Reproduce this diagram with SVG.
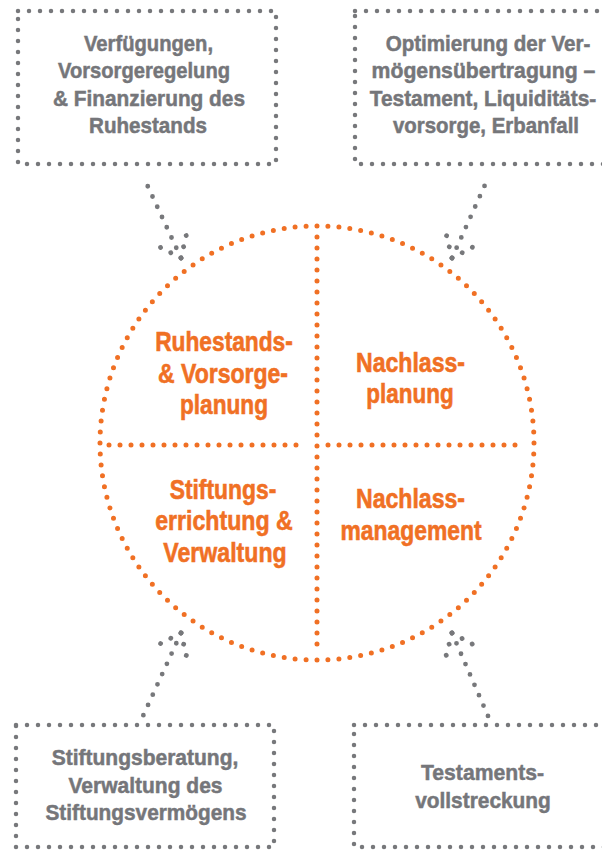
<svg xmlns="http://www.w3.org/2000/svg" width="602" height="850" viewBox="0 0 602 850">
  <style>
    .box { fill: none; stroke: #77787b; stroke-width: 4.5; stroke-linecap: round; stroke-dasharray: 0 11; }
    .gt { font-family: "Liberation Sans", Arial, sans-serif; font-weight: bold; font-size: 22px; fill: #75767a; stroke: #75767a; stroke-width: 0.5; text-anchor: middle; }
    .ot { font-family: "Liberation Sans", Arial, sans-serif; font-weight: bold; font-size: 28px; fill: #f07024; stroke: #f07024; stroke-width: 0.6; text-anchor: middle; }
    .od { fill: none; stroke: #f07024; stroke-width: 5; stroke-linecap: round; stroke-dasharray: 0 11; }
    .shaft { fill: none; stroke: #77787b; stroke-width: 4.8; stroke-linecap: round; stroke-dasharray: 0 11.3; marker-start: url(#head); }
    .arm { fill: none; stroke: #77787b; stroke-width: 4.8; stroke-linecap: round; stroke-dasharray: 0 11.5; }
  </style>
  <defs>
    <marker id="head" markerUnits="userSpaceOnUse" orient="auto" refX="0" refY="0" markerWidth="80" markerHeight="80" overflow="visible">
      <path class="arm" d="M0,0 L27.2,-21.2"/>
      <path class="arm" d="M0,0 L27.2,21.2"/>
    </marker>
  </defs>

  <g id="box-tl">
    <rect class="box" x="18" y="11" width="258" height="153"/>
    <text class="gt" x="148.5" y="50.5" textLength="129" lengthAdjust="spacingAndGlyphs">Verfügungen,</text>
    <text class="gt" x="144" y="78" textLength="172" lengthAdjust="spacingAndGlyphs">Vorsorgeregelung</text>
    <text class="gt" x="149" y="105.5" textLength="192" lengthAdjust="spacingAndGlyphs">&amp; Finanzierung des</text>
    <text class="gt" x="148" y="133" textLength="118" lengthAdjust="spacingAndGlyphs">Ruhestands</text>
  </g>

  <g id="box-tr">
    <rect class="box" x="355" y="11" width="262" height="153"/>
    <text class="gt" transform="translate(488,50.5) scale(0.936,1)">Optimierung der Ver-</text>
    <text class="gt" transform="translate(483.5,78) scale(0.964,1)">mögensübertragung –</text>
    <text class="gt" transform="translate(483,105.5) scale(0.947,1)">Testament, Liquiditäts-</text>
    <text class="gt" transform="translate(486,133) scale(0.928,1)">vorsorge, Erbanfall</text>
  </g>

  <g id="box-bl">
    <rect class="box" x="16" y="725" width="258" height="122"/>
    <text class="gt" x="145" y="765" textLength="186.7" lengthAdjust="spacingAndGlyphs">Stiftungsberatung,</text>
    <text class="gt" x="145.5" y="792.5" textLength="154" lengthAdjust="spacingAndGlyphs">Verwaltung des</text>
    <text class="gt" x="146" y="820" textLength="201" lengthAdjust="spacingAndGlyphs">Stiftungsvermögens</text>
  </g>

  <g id="box-br">
    <rect class="box" x="354" y="725" width="262" height="122"/>
    <text class="gt" x="482.5" y="780" textLength="123" lengthAdjust="spacingAndGlyphs">Testaments-</text>
    <text class="gt" x="483" y="807.5" textLength="135.7" lengthAdjust="spacingAndGlyphs">vollstreckung</text>
  </g>

  <g id="circle">
    <circle class="od" cx="317" cy="443" r="217" pathLength="124" style="stroke-dasharray: 0 1"/>
    <line class="od" x1="317" y1="237" x2="317" y2="650"/>
    <line class="od" x1="109" y1="445" x2="306" y2="445"/>
    <line class="od" x1="328" y1="445" x2="525" y2="445"/>
  </g>

  <g id="q-tl">
    <text class="ot" x="224" y="351" textLength="137.7" lengthAdjust="spacingAndGlyphs">Ruhestands-</text>
    <text class="ot" x="223" y="383" textLength="130" lengthAdjust="spacingAndGlyphs">&amp; Vorsorge-</text>
    <text class="ot" x="224" y="414" textLength="88" lengthAdjust="spacingAndGlyphs">planung</text>
  </g>
  <g id="q-tr">
    <text class="ot" x="410.5" y="372" textLength="109" lengthAdjust="spacingAndGlyphs">Nachlass-</text>
    <text class="ot" x="410" y="403" textLength="87.3" lengthAdjust="spacingAndGlyphs">planung</text>
  </g>
  <g id="q-bl">
    <text class="ot" x="223" y="498.5" textLength="106.7" lengthAdjust="spacingAndGlyphs">Stiftungs-</text>
    <text class="ot" x="224" y="530" textLength="137.7" lengthAdjust="spacingAndGlyphs">errichtung &amp;</text>
    <text class="ot" x="225" y="561.5" textLength="123.3" lengthAdjust="spacingAndGlyphs">Verwaltung</text>
  </g>
  <g id="q-br">
    <text class="ot" x="410.5" y="508" textLength="109" lengthAdjust="spacingAndGlyphs">Nachlass-</text>
    <text class="ot" x="411" y="540" textLength="141" lengthAdjust="spacingAndGlyphs">management</text>
  </g>

  <g id="connectors">
    <path class="shaft" d="M181,258 L143,176"/>
    <path class="shaft" d="M452,258 L489,176"/>
    <path class="shaft" d="M181,633 L143,716"/>
    <path class="shaft" d="M452,633 L488,716"/>
  </g>
</svg>
